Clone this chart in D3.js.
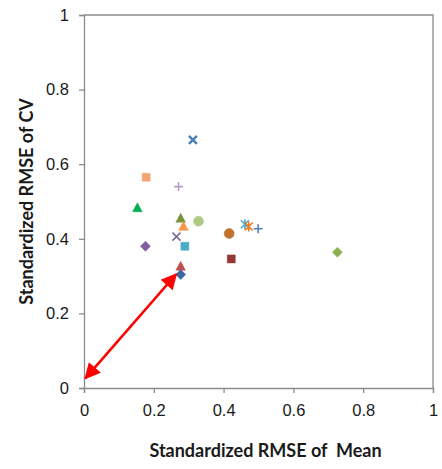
<!DOCTYPE html>
<html>
<head>
<meta charset="utf-8">
<script src="https://cdn.jsdelivr.net/npm/d3@7"></script>
<style>
  html, body { margin: 0; padding: 0; background: #fff; }
  svg { display: block; font-family: Lato, "Open Sans", "Liberation Sans", sans-serif; }
</style>
</head>
<body>
<svg id="chart" width="442" height="469"></svg>
<script>
// Standardized RMSE of mean vs. standardized RMSE of CV, one marker per method
const meanRmse = [0.312, 0.178, 0.271, 0.153, 0.277, 0.285, 0.328, 0.265, 0.289, 0.176, 0.416, 0.422, 0.461, 0.472, 0.499, 0.277, 0.277, 0.726];
const cvRmse   = [0.665, 0.565, 0.540, 0.482, 0.454, 0.432, 0.447, 0.406, 0.380, 0.380, 0.414, 0.346, 0.439, 0.433, 0.427, 0.325, 0.304, 0.364];
const markers  = ["x", "square", "plus", "triangle", "triangle", "triangle", "circle", "x", "square", "diamond", "circle", "square", "star", "star", "plus", "triangle", "diamond", "diamond"];
const markerColors = ["#4a7ebb", "#f5a470", "#b3a2c7", "#00b050", "#77933c", "#f79646", "#adcb84", "#7b6a9a", "#4bacc6", "#7d5fa0", "#c0732f", "#953735", "#4bacc6", "#f07a1e", "#4f81bd", "#c0504d", "#3a68a0", "#8cb14c"];

// Arrow from the origin towards the best-performing cluster
const arrowFrom = [0.004, 0.026];
const arrowTo   = [0.264, 0.305];

const xTicks = [0, 0.2, 0.4, 0.6, 0.8, 1];
const yTicks = [0, 0.2, 0.4, 0.6, 0.8, 1];
const xTitle = "Standardized RMSE of  Mean";
const yTitle = "Standardized RMSE of CV";

const svg = d3.select("#chart");
const W = 442, H = 469;
const m = { left: 84, right: 9, top: 15, bottom: 81 };
const x = d3.scaleLinear().domain([0, 1]).range([m.left, W - m.right]);
const y = d3.scaleLinear().domain([0, 1]).range([H - m.bottom, m.top]);
const axisColor = "#8c8c8c";
const textColor = "#1a1a1a";

// plot-area frame (top and right edges)
svg.append("path")
  .attr("d", `M${x(0)},${y(1)}H${x(1)}V${y(0)}`)
  .attr("fill", "none").attr("stroke", axisColor).attr("stroke-width", 1.3);

// axes
const xAxis = svg.append("g").attr("transform", `translate(0,${y(0)})`)
  .call(d3.axisBottom(x).tickValues(xTicks).tickSize(5).tickPadding(11)
    .tickFormat(d => d3.format("~g")(d)));
const yAxis = svg.append("g").attr("transform", `translate(${x(0)},0)`)
  .call(d3.axisLeft(y).tickValues(yTicks).tickSize(5).tickPadding(10)
    .tickFormat(d => d3.format("~g")(d)));
[xAxis, yAxis].forEach(g => {
  g.select(".domain").attr("stroke", axisColor).attr("stroke-width", 1.3);
  g.selectAll(".tick line").attr("stroke", axisColor).attr("stroke-width", 1.3);
  g.selectAll(".tick text").attr("fill", textColor).attr("font-size", 16.5);
});

// axis titles
svg.append("text")
  .attr("x", (x(0) + x(1)) / 2 + 7).attr("y", 457)
  .attr("text-anchor", "middle").attr("font-weight", "bold").attr("font-size", 18)
  .style("white-space", "pre")
  .attr("fill", textColor).text(xTitle);
svg.append("text")
  .attr("transform", `translate(33,${(y(0) + y(1)) / 2}) rotate(-90)`)
  .attr("text-anchor", "middle").attr("font-weight", "bold").attr("font-size", 18)
  .attr("fill", textColor).text(yTitle);

// marker shapes
function shapePath(type) {
  switch (type) {
    case "square": return "M-4,-4H4V4H-4Z";
    case "diamond": return "M0,-5L5,0L0,5L-5,0Z";
    case "triangle": return "M0,-5.5L4.8,3.5H-4.8Z";
    case "circle": return "M-5,0A5,5 0 1,0 5,0A5,5 0 1,0 -5,0Z";
    case "x": return "M-4,-4L4,4M-4,4L4,-4";
    case "plus": return "M-4.5,0H4.5M0,-4.5V4.5";
    case "star": return "M-4,-4L4,4M-4,4L4,-4M0,-5V5";
  }
}
const filled = t => ["square", "diamond", "triangle", "circle"].includes(t);

const pts = meanRmse.map((v, i) => ({ mx: v, cv: cvRmse[i], type: markers[i], color: markerColors[i] }));
svg.append("g").selectAll("path").data(pts).join("path")
  .attr("transform", d => `translate(${x(d.mx)},${y(d.cv)})`)
  .attr("d", d => shapePath(d.type))
  .attr("fill", d => filled(d.type) ? d.color : "none")
  .attr("stroke", d => d.color)
  .attr("stroke-width", d => filled(d.type) ? 0.5 : (d.type === "x" && d.mx > 0.3 ? 2.4 : 1.6))
  .attr("stroke-linecap", "butt");

// double-headed red arrow
const defs = svg.append("defs");
defs.append("marker").attr("id", "head")
  .attr("viewBox", "0 0 10 10").attr("refX", 9).attr("refY", 5)
  .attr("markerUnits", "userSpaceOnUse")
  .attr("markerWidth", 18).attr("markerHeight", 16)
  .attr("orient", "auto-start-reverse")
  .append("path").attr("d", "M0,0L10,5L0,10Z").attr("fill", "#ff0000");
svg.append("line")
  .attr("x1", x(arrowFrom[0])).attr("y1", y(arrowFrom[1]))
  .attr("x2", x(arrowTo[0])).attr("y2", y(arrowTo[1]))
  .attr("stroke", "#ff0000").attr("stroke-width", 2.6)
  .attr("marker-start", "url(#head)").attr("marker-end", "url(#head)");
</script>
</body>
</html>
